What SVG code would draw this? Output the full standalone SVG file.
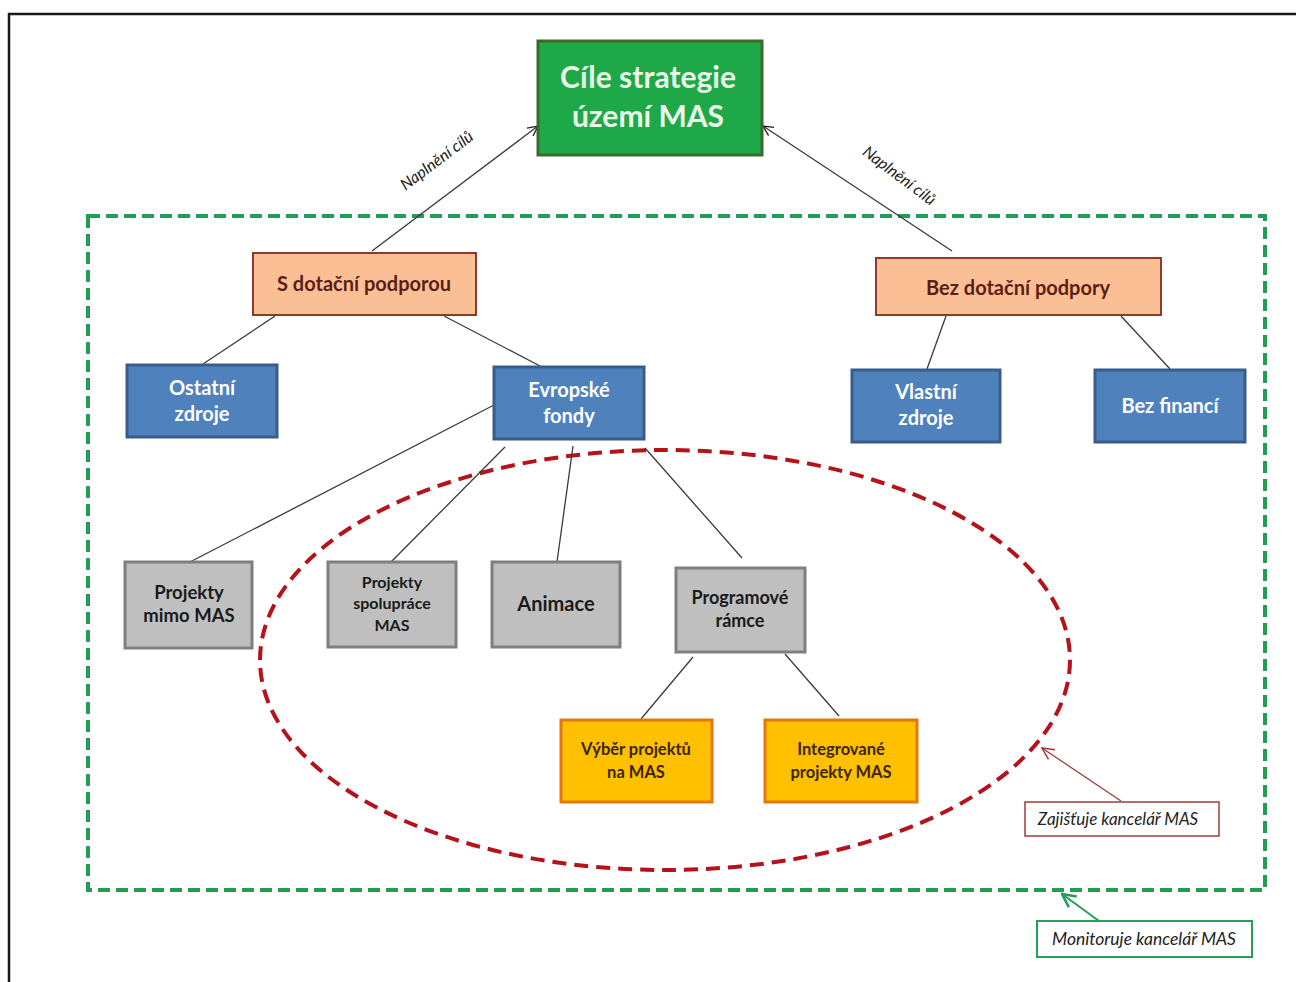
<svg xmlns="http://www.w3.org/2000/svg" width="1296" height="982" viewBox="0 0 1296 982">
<defs>
<style>
.t{font-family:Lato,"Liberation Sans",sans-serif;font-weight:bold;text-anchor:middle}
.blue rect{fill:#4f81bd;stroke:#385d8a;stroke-width:3}
.blue text{fill:#ffffff;font-size:20px}
.gray rect{fill:#bfbfbf;stroke:#7f7f7f;stroke-width:3}
.gray text{fill:#1a1a1a;font-size:18.5px}
.peach rect{fill:#fbbf95;stroke:#8c3a2b;stroke-width:2}
.peach text{fill:#5a1e14;font-size:20px}
.orange rect{fill:#ffc000;stroke:#e4780a;stroke-width:3}
.orange text{fill:#3a2600;font-size:16.5px}
.ln{stroke:#3a3a3a;stroke-width:1.3;fill:none}
.lbl{font-family:Lato,"Liberation Sans",sans-serif;font-style:italic;fill:#222}
</style>
<marker id="ab" viewBox="0 0 12 12" refX="11" refY="6" markerWidth="12" markerHeight="12" markerUnits="userSpaceOnUse" orient="auto">
<path d="M1,1 L11,6 L1,11" fill="none" stroke="#222" stroke-width="1.3"/>
</marker>
<marker id="ar" viewBox="0 0 12 12" refX="11" refY="6" markerWidth="14" markerHeight="14" markerUnits="userSpaceOnUse" orient="auto">
<path d="M1,1 L11,6 L1,11" fill="none" stroke="#a33b3b" stroke-width="1.3"/>
</marker>
<marker id="ag" viewBox="0 0 12 12" refX="11" refY="6" markerWidth="16" markerHeight="16" markerUnits="userSpaceOnUse" orient="auto">
<path d="M1,1 L11,6 L1,11" fill="none" stroke="#22a055" stroke-width="2"/>
</marker>
</defs>
<rect width="1296" height="982" fill="#ffffff"/>
<path d="M9,982 L9,14 L1296,14" fill="none" stroke="#1a1a1a" stroke-width="2.5"/>

<g id="monitor-area">
<rect x="88" y="216" width="1177" height="674" fill="none" stroke="#1f9e54" stroke-width="4" stroke-dasharray="12,6"/>
</g>
<g id="office-area">
<ellipse cx="665" cy="660" rx="405" ry="210" fill="none" stroke="#b5121b" stroke-width="4" stroke-dasharray="14,8"/>
</g>

<g id="connectors">
<line class="ln" x1="372" y1="251" x2="538" y2="126" marker-end="url(#ab)"/>
<line class="ln" x1="952" y1="251" x2="763" y2="126" marker-end="url(#ab)"/>
<line class="ln" x1="275" y1="316" x2="203" y2="364"/>
<line class="ln" x1="444" y1="316" x2="540" y2="366"/>
<line class="ln" x1="946" y1="316" x2="927" y2="369"/>
<line class="ln" x1="1121" y1="316" x2="1170" y2="369"/>
<line class="ln" x1="494" y1="405" x2="188" y2="563"/>
<line class="ln" x1="505" y1="447" x2="391" y2="562"/>
<line class="ln" x1="573" y1="446" x2="557" y2="562"/>
<line class="ln" x1="645" y1="448" x2="742" y2="558"/>
<line class="ln" x1="693" y1="657" x2="641" y2="719"/>
<line class="ln" x1="785" y1="654" x2="839" y2="716"/>
<line x1="1121" y1="801" x2="1042" y2="748" stroke="#a33b3b" stroke-width="1.3" marker-end="url(#ar)"/>
<line x1="1099" y1="921" x2="1062" y2="894" stroke="#22a055" stroke-width="2" marker-end="url(#ag)"/>
<text class="lbl" transform="translate(440,165) rotate(-37)" text-anchor="middle" font-size="16">Naplnění cílů</text>
<text class="lbl" transform="translate(896,180) rotate(37)" text-anchor="middle" font-size="16">Naplnění cílů</text>
</g>

<g id="goal">
<rect x="538" y="41" width="224" height="114" fill="#1fa848" stroke="#3b6a2c" stroke-width="3"/>
<text class="t" x="648" y="88" font-size="30" fill="#ecf7e8">Cíle strategie</text>
<text class="t" x="648" y="127" font-size="30" fill="#ecf7e8">území MAS</text>
</g>

<g id="s-dotacni" class="peach">
<rect x="253" y="253" width="223" height="62"/>
<text class="t" x="364" y="291">S dotační podporou</text>
</g>
<g id="bez-dotacni" class="peach">
<rect x="876" y="258" width="285" height="57"/>
<text class="t" x="1018" y="295">Bez dotační podpory</text>
</g>

<g id="ostatni" class="blue">
<rect x="127" y="365" width="150" height="72"/>
<text class="t" x="202" y="395">Ostatní</text>
<text class="t" x="202" y="421">zdroje</text>
</g>
<g id="evropske" class="blue">
<rect x="494" y="367" width="150" height="72"/>
<text class="t" x="569" y="397">Evropské</text>
<text class="t" x="569" y="423">fondy</text>
</g>
<g id="vlastni" class="blue">
<rect x="852" y="370" width="148" height="72"/>
<text class="t" x="926" y="399">Vlastní</text>
<text class="t" x="926" y="425">zdroje</text>
</g>
<g id="bez-financi" class="blue">
<rect x="1095" y="370" width="150" height="72"/>
<text class="t" x="1170" y="413">Bez financí</text>
</g>

<g id="mimo" class="gray">
<rect x="125" y="562" width="127" height="86"/>
<text class="t" x="189" y="599">Projekty</text>
<text class="t" x="189" y="622">mimo MAS</text>
</g>
<g id="spoluprace" class="gray">
<rect x="328" y="562" width="128" height="85"/>
<text class="t" x="392" y="588" style="font-size:16px">Projekty</text>
<text class="t" x="392" y="609" style="font-size:16px">spolupráce</text>
<text class="t" x="392" y="631" style="font-size:16px">MAS</text>
</g>
<g id="animace" class="gray">
<rect x="492" y="562" width="128" height="85"/>
<text class="t" x="556" y="611" style="font-size:20px">Animace</text>
</g>
<g id="programove" class="gray">
<rect x="676" y="568" width="129" height="84"/>
<text class="t" x="740" y="604" style="font-size:18px">Programové</text>
<text class="t" x="740" y="627" style="font-size:18px">rámce</text>
</g>

<g id="vyber" class="orange">
<rect x="561" y="720" width="151" height="82"/>
<text class="t" x="636" y="755">Výběr projektů</text>
<text class="t" x="636" y="778">na MAS</text>
</g>
<g id="integrovane" class="orange">
<rect x="765" y="720" width="152" height="82"/>
<text class="t" x="841" y="755">Integrované</text>
<text class="t" x="841" y="778">projekty MAS</text>
</g>

<g id="zajistuje">
<rect x="1025" y="802" width="194" height="34" fill="#ffffff" stroke="#a33b3b" stroke-width="1.5"/>
<text class="lbl" x="1118" y="825" text-anchor="middle" font-size="17">Zajišťuje kancelář MAS</text>
</g>
<g id="monitoruje">
<rect x="1037" y="921" width="215" height="36" fill="#ffffff" stroke="#22a055" stroke-width="2"/>
<text class="lbl" x="1144" y="945" text-anchor="middle" font-size="17.5">Monitoruje kancelář MAS</text>
</g>
</svg>
